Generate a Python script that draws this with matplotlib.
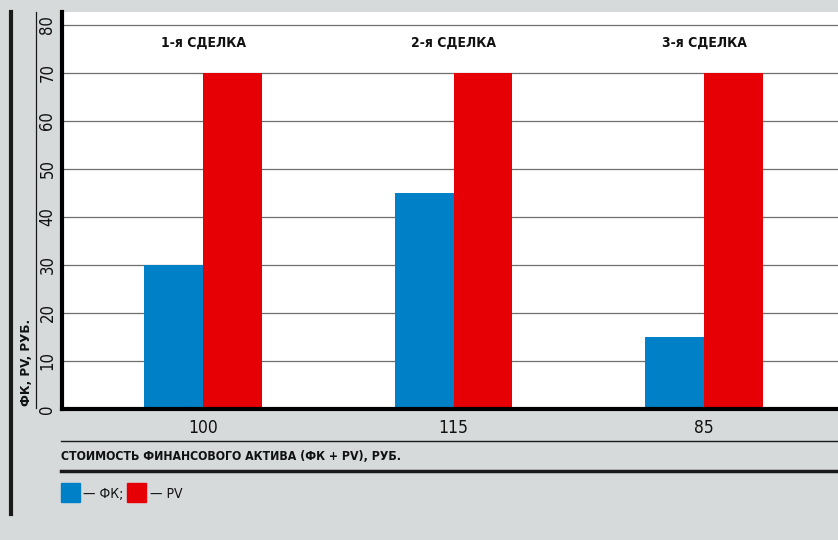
import matplotlib
matplotlib.use("Agg")
import matplotlib.pyplot as plt
from matplotlib.lines import Line2D
from matplotlib.patches import Rectangle
import numpy as np

deals = ["1-я СДЕЛКА", "2-я СДЕЛКА", "3-я СДЕЛКА"]
asset_value = ["100", "115", "85"]
fk_values = [30, 45, 15]
pv_values = [70, 70, 70]
y_ticks = [0, 10, 20, 30, 40, 50, 60, 70, 80]

BG = "#d7dadb"
BLUE = "#0080c6"
RED = "#e60005"
INK = "#111111"
FONT = dict(family="DejaVu Sans", stretch="condensed")

W, H = 838, 540
fig = plt.figure(figsize=(W / 100, H / 100), dpi=100, facecolor=BG)

def fx(px):
    return px / W

def fy(py):
    return 1 - py / H

ax = fig.add_axes([fx(62), fy(409), fx(838) - fx(62), fy(12) - fy(409)])
ax.set_facecolor("white")

x = np.arange(len(deals))
bw = 0.235
ax.bar(x - bw / 2, fk_values, width=bw, color=BLUE, zorder=3)
ax.bar(x + bw / 2, pv_values, width=bw, color=RED, zorder=3)

ax.set_xlim(-0.563, 2.535)
ax.set_ylim(0, 82.7)
ax.set_yticks(y_ticks)
ax.set_yticklabels([str(t) for t in y_ticks], rotation=90, va="center",
                   fontsize=12, color=INK, **FONT)
ax.tick_params(axis="y", length=0, pad=4)
ax.set_xticks(x)
ax.set_xticklabels(asset_value, fontsize=12.5, color=INK, **FONT)
ax.tick_params(axis="x", length=0, pad=7)
ax.grid(axis="y", color="#6e6e6e", linewidth=0.9, zorder=1)

for s in ["top", "right"]:
    ax.spines[s].set_visible(False)
for s in ["left", "bottom"]:
    ax.spines[s].set_linewidth(3)
    ax.spines[s].set_zorder(5)

for xi, name in zip(x, deals):
    ax.text(xi, 76.2, name, ha="center", va="center", fontsize=10,
            fontweight="bold", color=INK, **FONT)

# left-side decoration and y-axis caption
fig.add_artist(Line2D([fx(10.5), fx(10.5)], [fy(12), fy(514)], color="#1a1a1a",
                      linewidth=3, transform=fig.transFigure))
fig.add_artist(Line2D([fx(35.5), fx(35.5)], [fy(12), fy(408)], color="#1a1a1a",
                      linewidth=0.9, transform=fig.transFigure))
fig.text(fx(27), fy(406), "ФК, PV, РУБ.", rotation=90, ha="center", va="bottom",
         fontsize=9.5, fontweight="bold", color=INK, **FONT)

# x-axis caption between rules
fig.add_artist(Line2D([fx(61), 1], [fy(441), fy(441)], color="#1a1a1a",
                      linewidth=1, transform=fig.transFigure))
fig.text(fx(61), fy(457), "СТОИМОСТЬ ФИНАНСОВОГО АКТИВА (ФК + PV), РУБ.",
         ha="left", va="center", fontsize=8.8, fontweight="bold",
         color=INK, **FONT)
fig.add_artist(Line2D([fx(61), 1], [fy(471), fy(471)], color="#1a1a1a",
                      linewidth=2.5, transform=fig.transFigure))

# legend
fig.add_artist(Rectangle((fx(61), fy(502)), fx(19), fy(483) - fy(502),
                         color=BLUE, transform=fig.transFigure))
fig.text(fx(83), fy(494), "— ФК;", ha="left", va="center",
         fontsize=10, color=INK, **FONT)
fig.add_artist(Rectangle((fx(127), fy(502)), fx(19), fy(483) - fy(502),
                         color=RED, transform=fig.transFigure))
fig.text(fx(150), fy(494), "— PV", ha="left", va="center",
         fontsize=10, color=INK, **FONT)

fig.savefig("out.png", dpi=100, facecolor=BG)
